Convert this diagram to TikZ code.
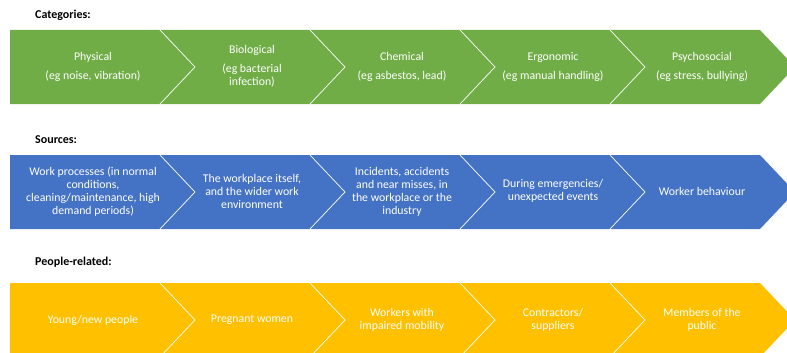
\documentclass[tikz,border=0pt]{standalone}
\usepackage{fontspec}
\setmainfont{Carlito}
\definecolor{catgreen}{HTML}{70AD47}
\definecolor{srcblue}{HTML}{4472C4}
\definecolor{pplyellow}{HTML}{FFC000}

\begin{document}
\begin{tikzpicture}[x=1pt, y=-1pt,
	label/.style={font=\fontsize{11.8}{13}\selectfont, text=white, align=center, inner sep=0pt},
	heading/.style={font=\fontsize{12}{13}\selectfont\bfseries, anchor=west, inner sep=0pt},
	chevron/.style={draw=white, line width=0.7pt}]
	\useasboundingbox (0,0) rectangle (787,353);
	\clip (0,0) rectangle (787,353);

	% the three bands, each cut into five chevrons
	\foreach \top/\col in {30/catgreen, 155/srcblue, 283/pplyellow} {
		\fill [\col]
			(10,\top) -- (760,\top) -- (795,\top+37) -- (760,\top+74) -- (10,\top+74) -- cycle;
		\foreach \x in {160,310,460,610}
			\draw [chevron]
				(\x,\top) -- (\x+35,\top+37) -- (\x,\top+74);
	}

	% categories
	\node [heading] (cathead) at (35,15) {Categories:};
	\node [label] (phys) at (93,67) {Physical\\[6pt](eg noise, vibration)};
	\node [label] (bio) at (252,66) {Biological\\[6pt](eg bacterial\\infection)};
	\node [label] (chem) at (402,67) {Chemical\\[6pt](eg asbestos, lead)};
	\node [label] (ergo) at (553,67) {Ergonomic\\[6pt](eg manual handling)};
	\node [label] (psych) at (702,67) {Psychosocial\\[6pt](eg stress, bullying)};

	% sources
	\node [heading] (srchead) at (35,140) {Sources:};
	\node [label] (process) at (93,192)
		{Work processes (in normal\\conditions,\\cleaning/maintenance, high\\demand periods)};
	\node [label] (place) at (252,191) {The workplace itself,\\and the wider work\\environment};
	\node [label] (incident) at (402,192)
		{Incidents, accidents\\and near misses, in\\the workplace or the\\industry};
	\node [label] (emergency) at (553,191) {During emergencies/\\unexpected events};
	\node [label] (behaviour) at (702,191) {Worker behaviour};

	% people
	\node [heading] (pplhead) at (35,262) {People-related:};
	\node [label] (young) at (93,320) {Young/new people};
	\node [label] (pregnant) at (252,320) {Pregnant women};
	\node [label] (mobility) at (402,320) {Workers with\\impaired mobility};
	\node [label] (contractor) at (553,320) {Contractors/\\suppliers};
	\node [label] (public) at (702,320) {Members of the\\public};
\end{tikzpicture}
\end{document}
